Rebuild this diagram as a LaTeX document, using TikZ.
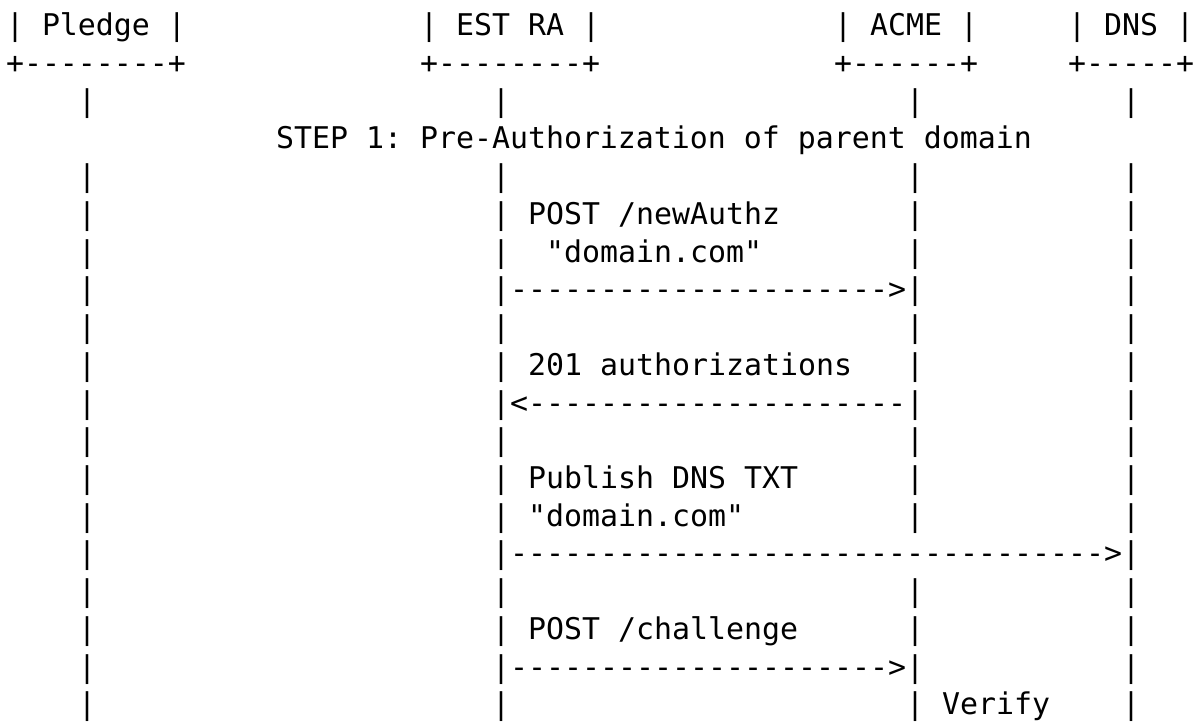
\documentclass[tikz,border=0pt]{standalone}
\usepackage{fontspec}
\usepackage{tikz}
\setmonofont{DejaVu Sans Mono}
\newcommand\dashrun[1]{\ifnum#1>0 -\expandafter\dashrun\expandafter{\the\numexpr#1-1\relax}\fi}

\begin{document}
\begin{tikzpicture}[
  x=18pt,y=-37.72pt,
  cell/.style={anchor=base west,inner sep=0pt,outer sep=0pt,
    font=\ttfamily\fontsize{29.9pt}{36pt}\selectfont}
]
\useasboundingbox (0pt,0pt) rectangle (1199pt,-723pt);
\begin{scope}[shift={(6pt,-35.8pt)}]
% participants
\node[cell] (pledge) at (0,0) {| Pledge |};
\node[cell] (estra) at (23,0) {| EST RA |};
\node[cell] (acme) at (46,0) {| ACME |};
\node[cell] (dns) at (59,0) {| DNS |};
\node[cell] (pledgeline) at (0,1) {+\dashrun{8}+};
\node[cell] (estraline) at (23,1) {+\dashrun{8}+};
\node[cell] (acmeline) at (46,1) {+\dashrun{6}+};
\node[cell] (dnsline) at (59,1) {+\dashrun{5}+};
% lifelines
\foreach \r in {2,4,5,...,18} {
  \node[cell] (pledgebar\r) at (4,\r) {|};
  \node[cell] (estrabar\r) at (27,\r) {|};
  \node[cell] (dnsbar\r) at (62,\r) {|};
}
\foreach \r in {2,4,5,...,13,15,16,17,18}
  \node[cell] (acmebar\r) at (50,\r) {|};
% messages
\node[cell] (stepone) at (15,3) {STEP 1: Pre-Authorization of parent domain};
\node[cell] (newauthz) at (29,5) {POST /newAuthz};
\node[cell] (authzdomain) at (30,6) {"domain.com"};
\node[cell] (newauthzarrow) at (28,7) {\dashrun{21}>};
\node[cell] (authzs) at (29,9) {201 authorizations};
\node[cell] (authzsarrow) at (28,10) {<\dashrun{21}};
\node[cell] (publish) at (29,12) {Publish DNS TXT};
\node[cell] (txtdomain) at (29,13) {"domain.com"};
\node[cell] (publisharrow) at (28,14) {\dashrun{33}>};
\node[cell] (challenge) at (29,16) {POST /challenge};
\node[cell] (challengearrow) at (28,17) {\dashrun{21}>};
\node[cell] (verify) at (52,18) {Verify};
\end{scope}
\end{tikzpicture}
\end{document}
